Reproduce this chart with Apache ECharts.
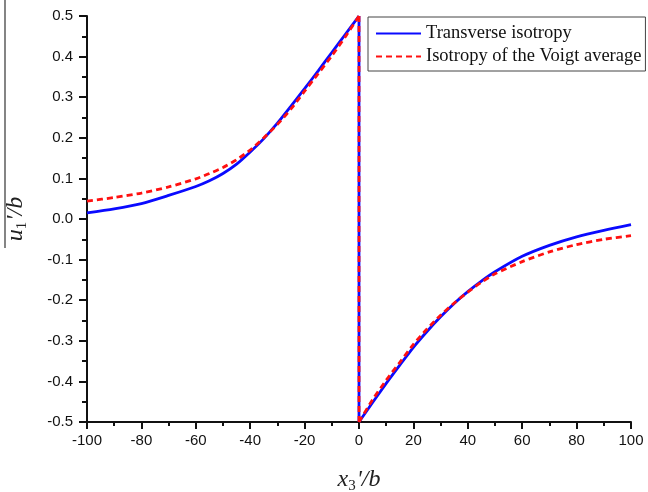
<!DOCTYPE html>
<html>
<head>
<meta charset="utf-8">
<script src="https://cdn.jsdelivr.net/npm/echarts@6/dist/echarts.min.js"></script>
<style>
  html, body { margin: 0; padding: 0; background: #fff; }
  #chart { width: 648px; height: 492px; }
</style>
</head>
<body>
<div id="chart"></div>
<script>
// Normalised coordinate x3'/b on each side of the discontinuity at 0
const xLeft  = [-100, -90, -80, -70, -60, -55, -50, -45, -40, -35, -30, -25, -20, -15, -10, -5, 0];
const xRight = [0, 5, 10, 15, 20, 25, 30, 35, 40, 45, 50, 60, 70, 80, 90, 100];

// u1'/b, transverse isotropy
const transLeft  = [0.015, 0.025, 0.038, 0.058, 0.080, 0.094, 0.112, 0.135, 0.165, 0.198, 0.236, 0.278, 0.321, 0.365, 0.410, 0.455, 0.500];
const transRight = [-0.500, -0.452, -0.405, -0.360, -0.316, -0.277, -0.241, -0.208, -0.179, -0.153, -0.130, -0.092, -0.065, -0.044, -0.028, -0.014];

// u1'/b, isotropy of the Voigt average
const voigtLeft  = [0.044, 0.053, 0.064, 0.079, 0.099, 0.112, 0.127, 0.146, 0.170, 0.200, 0.233, 0.271, 0.315, 0.358, 0.402, 0.449, 0.500];
const voigtRight = [-0.500, -0.445, -0.397, -0.353, -0.309, -0.271, -0.237, -0.207, -0.180, -0.156, -0.135, -0.105, -0.081, -0.063, -0.050, -0.041];

const xTicks = [-100, -80, -60, -40, -20, 0, 20, 40, 60, 80, 100];
const yTicks = [-0.5, -0.4, -0.3, -0.2, -0.1, 0.0, 0.1, 0.2, 0.3, 0.4, 0.5];

const NAME_T = 'Transverse isotropy';
const NAME_V = 'Isotropy of the Voigt average';

const pairs = (xs, ys) => xs.map((x, i) => [x, ys[i]]);
// the jump at 0 joins the last left point and the first right point
const jump = (left, right) => [[xLeft[xLeft.length - 1], left[left.length - 1]], [xRight[0], right[0]]];

const blueStyle = { color: '#0a0aff', width: 2.8, type: 'solid' };
const redStyle  = { color: '#ff1010', width: 2.8, type: [6, 4] };

function curve(name, data, style, smooth) {
  return {
    type: 'line', name, data, smooth: smooth ? 0.25 : false,
    symbol: 'none', showSymbol: false, animation: false,
    lineStyle: style, itemStyle: { color: style.color },
    emphasis: { disabled: true }
  };
}

const chart = echarts.init(document.getElementById('chart'), null, { renderer: 'canvas' });

const labelFont = { fontFamily: 'Liberation Sans, Arial, sans-serif', fontSize: 15, color: '#111' };
const serif = 'Liberation Serif, Times New Roman, serif';
const nameRich = {
  i: { fontFamily: serif, fontStyle: 'italic', fontSize: 24, color: '#222' },
  s: { fontFamily: serif, fontSize: 15, color: '#222', padding: [13, 1, 0, 0] }
};

chart.setOption({
  backgroundColor: '#fff',
  animation: false,
  grid: { left: 87, right: 17, top: 16, bottom: 70, containLabel: false, outerBoundsMode: 'none' },
  legend: {
    data: [NAME_T, NAME_V],
    orient: 'vertical',
    left: 368, top: 17,
    padding: [7, 4, 5, 7],
    itemGap: 4,
    itemWidth: 45, itemHeight: 14,
    borderColor: '#444', borderWidth: 1,
    backgroundColor: '#fff',
    selectedMode: false,
    itemStyle: { opacity: 0 },
    lineStyle: { opacity: 1 },
    textStyle: { fontFamily: serif, fontSize: 18.5, lineHeight: 18, color: '#111' }
  },
  xAxis: {
    type: 'value', min: -100, max: 100, interval: 20,
    name: '{i|x}{s|3}{i|\'/b}',
    nameLocation: 'middle', nameGap: 44,
    nameTextStyle: { rich: nameRich },
    axisLine: { show: true, onZero: false, lineStyle: { color: '#111', width: 2 } },
    axisTick: { show: true, inside: false, length: 7, lineStyle: { color: '#111', width: 2 } },
    minorTick: { show: true, splitNumber: 2, length: 4, lineStyle: { color: '#111', width: 2 } },
    splitLine: { show: false },
    axisLabel: Object.assign({ margin: 11, formatter: v => xTicks.includes(v) ? String(v) : '' }, labelFont)
  },
  yAxis: {
    type: 'value', min: -0.5, max: 0.5, interval: 0.1,
    name: '{i|u}{s|1}{i|\'/b}',
    nameLocation: 'middle', nameGap: 57, nameRotate: 90,
    nameTextStyle: { rich: nameRich },
    axisLine: { show: true, onZero: false, lineStyle: { color: '#111', width: 2 } },
    axisTick: { show: true, inside: false, length: 8, lineStyle: { color: '#111', width: 2 } },
    minorTick: { show: true, splitNumber: 2, length: 5, lineStyle: { color: '#111', width: 2 } },
    splitLine: { show: false },
    axisLabel: Object.assign({
      margin: 14,
      formatter: v => {
        const r = Math.round(v * 10) / 10;
        return yTicks.some(t => Math.abs(t - r) < 1e-9) ? r.toFixed(1) : '';
      }
    }, labelFont)
  },
  graphic: [
    // rule along the left edge over the ordinate title
    { type: 'line', shape: { x1: 5, y1: 0, x2: 5, y2: 248 }, style: { stroke: '#333', lineWidth: 1.2 }, silent: true }
  ],
  series: [
    curve(NAME_T, pairs(xLeft, transLeft), blueStyle, true),
    curve(NAME_T, pairs(xRight, transRight), blueStyle, true),
    curve(NAME_T, jump(transLeft, transRight), blueStyle, false),
    curve(NAME_V, pairs(xLeft, voigtLeft), redStyle, true),
    curve(NAME_V, pairs(xRight, voigtRight), redStyle, true),
    curve(NAME_V, jump(voigtLeft, voigtRight), redStyle, false)
  ]
});
</script>
</body>
</html>
